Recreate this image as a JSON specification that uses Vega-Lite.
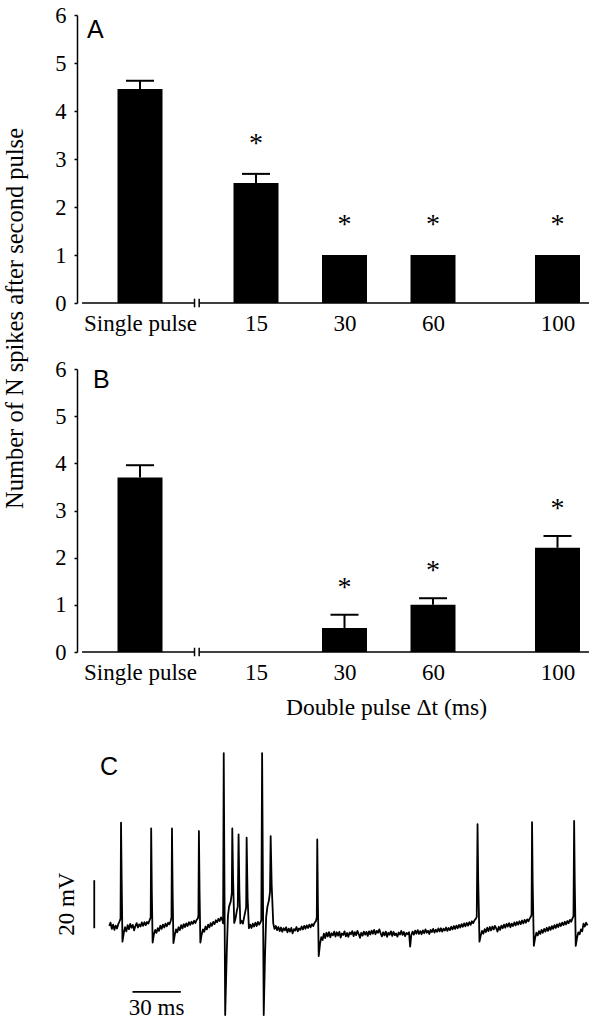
{
  "$schema": "https://vega.github.io/schema/vega-lite/v6.json",
  "padding": {"left": 2, "top": 4, "right": 0, "bottom": 0},
  "bounds": "flush",
  "spacing": 66,
  "config": {
    "font": "Liberation Serif",
    "view": {"stroke": null},
    "style": {"guide-label": {"font": "Liberation Serif"}, "guide-title": {"font": "Liberation Serif"}},
    "axis": {"domainColor": "black", "domainWidth": 1.5, "tickColor": "black", "tickWidth": 1.5, "labelColor": "black", "labelFont": "Liberation Serif", "labelFontSize": 22.5, "titleFont": "Liberation Serif", "titleFontSize": 23.5, "titleFontWeight": "normal", "titleColor": "black", "grid": false},
    "text": {"font": "Liberation Serif", "color": "black"}
  },
  "datasets": {
    "bars": [
      {"panel": "A", "k": 0, "cond": "Single pulse", "mean": 4.46, "hi": 4.63, "sig": ""},
      {"panel": "A", "k": 1, "cond": "15", "mean": 2.5, "hi": 2.69, "sig": "*"},
      {"panel": "A", "k": 2, "cond": "30", "mean": 1.0, "hi": 1.0, "sig": "*"},
      {"panel": "A", "k": 3, "cond": "60", "mean": 1.0, "hi": 1.0, "sig": "*"},
      {"panel": "A", "k": 4, "cond": "100", "mean": 1.0, "hi": 1.0, "sig": "*"},
      {"panel": "B", "k": 0, "cond": "Single pulse", "mean": 3.7, "hi": 3.96, "sig": ""},
      {"panel": "B", "k": 1, "cond": "15", "mean": 0, "hi": 0, "sig": ""},
      {"panel": "B", "k": 2, "cond": "30", "mean": 0.51, "hi": 0.79, "sig": "*"},
      {"panel": "B", "k": 3, "cond": "60", "mean": 1.0, "hi": 1.14, "sig": "*"},
      {"panel": "B", "k": 4, "cond": "100", "mean": 2.21, "hi": 2.46, "sig": "*"}
    ],
    "baseline": [{"x1": -0.55, "x2": 0.47}, {"x1": 0.51, "x2": 4.3}],
    "breaks": [{"xb": 0.47}, {"xb": 0.51}],
    "scalebars": [
      {"t1": -9.3, "t2": -9.3, "v1": -60.5, "v2": -40.5},
      {"t1": 14.4, "t2": 44.4, "v1": -87, "v2": -87}
    ],
    "scalelabels": [
      {"label": "20 mV", "t": -26.2, "v": -50.5},
      {"label": "30 ms", "t": 29.4, "v": -93.8}
    ],
    "trace": [
      {"t":0,"v":-59.5},{"t":0.8,"v":-58.2},{"t":1.6,"v":-60.8},{"t":2.4,"v":-59.0},{"t":3.2,"v":-61.2},{"t":4.0,"v":-59.4},{"t":4.8,"v":-60.6},{"t":5.6,"v":-58.8},{"t":6.4,"v":-57.6},{"t":7.0,"v":-56.5},{"t":7.3,"v":-16.5},{"t":7.7,"v":-40},{"t":8.2,"v":-66.1},{"t":9.0,"v":-62.5},{"t":9.8,"v":-60.1},{"t":10.6,"v":-61.8},{"t":11.4,"v":-59.2},{"t":12.2,"v":-60.9},{"t":13.0,"v":-58.7},{"t":13.8,"v":-60.3},{"t":14.6,"v":-59.1},{"t":15.4,"v":-61.4},{"t":16.2,"v":-59.6},{"t":17.0,"v":-58.4},{"t":17.8,"v":-60.2},{"t":18.6,"v":-58.9},{"t":19.4,"v":-59.8},{"t":20.2,"v":-58.1},{"t":21.0,"v":-59.5},{"t":21.8,"v":-58.0},{"t":22.6,"v":-59.2},{"t":23.4,"v":-57.9},{"t":24.2,"v":-58.6},{"t":25.0,"v":-57.2},{"t":25.7,"v":-56.0},{"t":26.0,"v":-18.9},{"t":26.4,"v":-45},{"t":26.9,"v":-66.5},{"t":27.7,"v":-63.0},{"t":28.5,"v":-61.2},{"t":29.3,"v":-62.4},{"t":30.1,"v":-60.5},{"t":30.9,"v":-61.6},{"t":31.7,"v":-59.4},{"t":32.5,"v":-60.8},{"t":33.3,"v":-59.0},{"t":34.1,"v":-60.2},{"t":34.9,"v":-58.6},{"t":35.7,"v":-59.7},{"t":36.5,"v":-58.2},{"t":37.3,"v":-58.9},{"t":38.1,"v":-57.5},{"t":38.6,"v":-56.0},{"t":38.9,"v":-18.9},{"t":39.3,"v":-45},{"t":39.8,"v":-66.7},{"t":40.6,"v":-63.5},{"t":41.4,"v":-61.0},{"t":42.2,"v":-62.2},{"t":43.0,"v":-60.1},{"t":43.8,"v":-61.3},{"t":44.6,"v":-59.2},{"t":45.4,"v":-60.6},{"t":46.2,"v":-58.8},{"t":47.0,"v":-60.0},{"t":47.8,"v":-58.5},{"t":48.6,"v":-59.6},{"t":49.4,"v":-58.0},{"t":50.2,"v":-59.1},{"t":51.0,"v":-57.8},{"t":51.8,"v":-58.7},{"t":52.6,"v":-57.4},{"t":53.4,"v":-58.3},{"t":54.2,"v":-57.0},{"t":55.0,"v":-56.4},{"t":55.3,"v":-55.0},{"t":55.6,"v":-20.0},{"t":56.0,"v":-45},{"t":56.5,"v":-66.5},{"t":57.3,"v":-63.2},{"t":58.1,"v":-61.0},{"t":58.9,"v":-62.0},{"t":59.7,"v":-59.8},{"t":60.5,"v":-61.0},{"t":61.3,"v":-59.0},{"t":62.1,"v":-60.2},{"t":62.9,"v":-58.4},{"t":63.7,"v":-59.5},{"t":64.5,"v":-57.9},{"t":65.3,"v":-58.8},{"t":66.1,"v":-57.2},{"t":66.9,"v":-58.0},{"t":67.7,"v":-56.6},{"t":68.5,"v":-57.5},{"t":69.3,"v":-56.0},{"t":70.1,"v":-57.0},{"t":70.6,"v":-58.5},{"t":71.0,"v":12.5},{"t":71.9,"v":-96.7},{"t":72.9,"v":-70},{"t":73.6,"v":-55.5},{"t":74.3,"v":-51.5},{"t":75.3,"v":-49.5},{"t":76.0,"v":-46.0},{"t":76.3,"v":-18.9},{"t":76.8,"v":-40},{"t":77.5,"v":-58.3},{"t":78.3,"v":-56.5},{"t":79.2,"v":-53.0},{"t":79.7,"v":-51.5},{"t":80.2,"v":-21.4},{"t":80.7,"v":-45},{"t":81.3,"v":-58.5},{"t":82.1,"v":-57.4},{"t":82.9,"v":-58.6},{"t":83.7,"v":-55.8},{"t":84.4,"v":-53.5},{"t":84.9,"v":-51.8},{"t":85.2,"v":-22.8},{"t":85.8,"v":-48},{"t":86.6,"v":-60.5},{"t":87.4,"v":-59.0},{"t":88.2,"v":-60.4},{"t":89.0,"v":-58.6},{"t":89.8,"v":-59.8},{"t":90.6,"v":-58.2},{"t":91.4,"v":-59.6},{"t":92.2,"v":-57.9},{"t":93.0,"v":-59.0},{"t":93.8,"v":-58.0},{"t":94.3,"v":-57.2},{"t":94.8,"v":12.5},{"t":95.8,"v":-96.7},{"t":96.6,"v":-72},{"t":97.3,"v":-56},{"t":98.1,"v":-51.5},{"t":99.0,"v":-49.0},{"t":99.7,"v":-45.5},{"t":100.1,"v":-22.1},{"t":100.7,"v":-42},{"t":101.7,"v":-58.5},{"t":102.5,"v":-60.8},{"t":103.3,"v":-59.6},{"t":104.1,"v":-61.3},{"t":104.9,"v":-60.0},{"t":105.7,"v":-61.7},{"t":106.5,"v":-60.2},{"t":107.3,"v":-62.0},{"t":108.1,"v":-60.5},{"t":108.9,"v":-61.4},{"t":109.7,"v":-60.1},{"t":110.5,"v":-62.2},{"t":111.3,"v":-60.7},{"t":112.1,"v":-61.9},{"t":112.9,"v":-60.4},{"t":113.7,"v":-62.6},{"t":114.5,"v":-60.9},{"t":115.3,"v":-61.5},{"t":116.1,"v":-60.0},{"t":116.9,"v":-61.8},{"t":117.7,"v":-60.6},{"t":118.5,"v":-61.2},{"t":119.3,"v":-59.8},{"t":120.1,"v":-61.0},{"t":120.9,"v":-59.5},{"t":121.7,"v":-60.7},{"t":122.5,"v":-59.3},{"t":123.3,"v":-60.4},{"t":124.1,"v":-59.0},{"t":124.9,"v":-60.1},{"t":125.7,"v":-58.8},{"t":126.5,"v":-59.6},{"t":127.3,"v":-58.3},{"t":128.2,"v":-57.5},{"t":128.7,"v":-56.0},{"t":129.0,"v":-23.5},{"t":129.4,"v":-50},{"t":129.9,"v":-72.1},{"t":130.7,"v":-67.0},{"t":131.5,"v":-64.2},{"t":132.3,"v":-65.4},{"t":133.1,"v":-62.8},{"t":133.9,"v":-64.6},{"t":134.7,"v":-62.4},{"t":135.5,"v":-63.9},{"t":136.3,"v":-62.1},{"t":137.1,"v":-64.3},{"t":137.9,"v":-62.6},{"t":138.7,"v":-63.5},{"t":139.5,"v":-61.9},{"t":140.3,"v":-64.0},{"t":141.1,"v":-62.2},{"t":141.9,"v":-63.6},{"t":142.7,"v":-62.0},{"t":143.5,"v":-64.4},{"t":144.3,"v":-62.7},{"t":145.1,"v":-63.3},{"t":145.9,"v":-61.8},{"t":146.7,"v":-63.9},{"t":147.5,"v":-62.5},{"t":148.3,"v":-64.1},{"t":149.1,"v":-62.3},{"t":149.9,"v":-63.0},{"t":150.7,"v":-61.7},{"t":151.5,"v":-63.8},{"t":152.3,"v":-62.1},{"t":153.1,"v":-63.4},{"t":153.9,"v":-61.6},{"t":154.7,"v":-62.9},{"t":155.5,"v":-64.5},{"t":156.3,"v":-62.4},{"t":157.1,"v":-63.6},{"t":157.9,"v":-61.9},{"t":158.7,"v":-63.2},{"t":159.5,"v":-62.0},{"t":160.3,"v":-63.7},{"t":161.1,"v":-61.8},{"t":161.9,"v":-63.1},{"t":162.7,"v":-61.5},{"t":163.5,"v":-62.8},{"t":164.3,"v":-61.2},{"t":165.1,"v":-63.0},{"t":165.9,"v":-61.6},{"t":166.7,"v":-62.4},{"t":167.5,"v":-61.0},{"t":168.3,"v":-62.6},{"t":169.1,"v":-63.9},{"t":169.9,"v":-62.2},{"t":170.7,"v":-63.5},{"t":171.5,"v":-61.9},{"t":172.3,"v":-64.1},{"t":173.1,"v":-62.4},{"t":173.9,"v":-63.2},{"t":174.7,"v":-61.8},{"t":175.5,"v":-63.7},{"t":176.3,"v":-62.0},{"t":177.1,"v":-63.4},{"t":177.9,"v":-62.7},{"t":178.7,"v":-64.0},{"t":179.5,"v":-62.3},{"t":180.3,"v":-63.1},{"t":181.1,"v":-61.6},{"t":181.9,"v":-63.3},{"t":182.7,"v":-62.1},{"t":183.5,"v":-63.8},{"t":184.3,"v":-62.5},{"t":185.1,"v":-63.0},{"t":185.9,"v":-62.2},{"t":186.6,"v":-68.2},{"t":187.3,"v":-63.4},{"t":188.1,"v":-61.9},{"t":188.9,"v":-63.2},{"t":189.7,"v":-61.5},{"t":190.5,"v":-62.8},{"t":191.3,"v":-61.3},{"t":192.1,"v":-62.9},{"t":192.9,"v":-61.7},{"t":193.7,"v":-63.0},{"t":194.5,"v":-61.4},{"t":195.3,"v":-62.6},{"t":196.1,"v":-61.0},{"t":196.9,"v":-62.4},{"t":197.7,"v":-61.6},{"t":198.5,"v":-62.9},{"t":199.3,"v":-61.2},{"t":200.1,"v":-62.1},{"t":200.9,"v":-60.8},{"t":201.7,"v":-62.3},{"t":202.5,"v":-61.1},{"t":203.3,"v":-62.0},{"t":204.1,"v":-60.6},{"t":204.9,"v":-61.8},{"t":205.7,"v":-60.5},{"t":206.5,"v":-61.9},{"t":207.3,"v":-60.7},{"t":208.1,"v":-61.5},{"t":208.9,"v":-60.2},{"t":209.7,"v":-61.6},{"t":210.5,"v":-60.4},{"t":211.3,"v":-61.3},{"t":212.1,"v":-59.9},{"t":212.9,"v":-61.0},{"t":213.7,"v":-59.6},{"t":214.5,"v":-60.8},{"t":215.3,"v":-59.4},{"t":216.1,"v":-60.5},{"t":216.9,"v":-59.1},{"t":217.7,"v":-60.2},{"t":218.5,"v":-58.8},{"t":219.3,"v":-59.9},{"t":220.1,"v":-58.5},{"t":220.9,"v":-59.7},{"t":221.7,"v":-58.3},{"t":222.5,"v":-59.4},{"t":223.3,"v":-58.0},{"t":224.1,"v":-59.1},{"t":224.9,"v":-57.6},{"t":225.7,"v":-58.4},{"t":226.5,"v":-57.2},{"t":227.3,"v":-56.6},{"t":227.9,"v":-55.8},{"t":228.4,"v":-17.1},{"t":228.8,"v":-40},{"t":229.6,"v":-66.1},{"t":230.4,"v":-63.5},{"t":231.2,"v":-61.6},{"t":232.0,"v":-62.8},{"t":232.8,"v":-60.9},{"t":233.6,"v":-62.1},{"t":234.4,"v":-60.3},{"t":235.2,"v":-61.7},{"t":236.0,"v":-60.0},{"t":236.8,"v":-61.4},{"t":237.6,"v":-59.8},{"t":238.4,"v":-61.0},{"t":239.2,"v":-59.5},{"t":240.0,"v":-60.6},{"t":240.8,"v":-61.9},{"t":241.6,"v":-59.9},{"t":242.4,"v":-61.2},{"t":243.2,"v":-59.4},{"t":244.0,"v":-60.5},{"t":244.8,"v":-59.0},{"t":245.6,"v":-60.3},{"t":246.4,"v":-58.7},{"t":247.2,"v":-59.8},{"t":248.0,"v":-58.4},{"t":248.8,"v":-60.1},{"t":249.6,"v":-58.6},{"t":250.4,"v":-59.6},{"t":251.2,"v":-58.1},{"t":252.0,"v":-59.3},{"t":252.8,"v":-57.9},{"t":253.6,"v":-59.0},{"t":254.4,"v":-57.6},{"t":255.2,"v":-58.8},{"t":256.0,"v":-57.3},{"t":256.8,"v":-58.5},{"t":257.6,"v":-57.0},{"t":258.4,"v":-58.2},{"t":259.2,"v":-56.8},{"t":260.0,"v":-57.6},{"t":260.8,"v":-56.4},{"t":261.5,"v":-55.6},{"t":261.9,"v":-54.8},{"t":262.2,"v":-16.3},{"t":262.6,"v":-42},{"t":263.3,"v":-67.8},{"t":264.1,"v":-64.6},{"t":264.9,"v":-62.4},{"t":265.7,"v":-63.5},{"t":266.5,"v":-61.7},{"t":267.3,"v":-62.9},{"t":268.1,"v":-61.2},{"t":268.9,"v":-62.4},{"t":269.7,"v":-60.8},{"t":270.5,"v":-61.9},{"t":271.3,"v":-60.3},{"t":272.1,"v":-61.6},{"t":272.9,"v":-60.0},{"t":273.7,"v":-61.2},{"t":274.5,"v":-59.6},{"t":275.3,"v":-60.8},{"t":276.1,"v":-59.2},{"t":276.9,"v":-60.4},{"t":277.7,"v":-58.9},{"t":278.5,"v":-60.0},{"t":279.3,"v":-58.5},{"t":280.1,"v":-59.6},{"t":280.9,"v":-58.2},{"t":281.7,"v":-59.2},{"t":282.5,"v":-57.8},{"t":283.3,"v":-58.9},{"t":284.1,"v":-57.5},{"t":284.9,"v":-58.4},{"t":285.7,"v":-57.0},{"t":286.5,"v":-57.8},{"t":287.2,"v":-56.5},{"t":287.9,"v":-55.5},{"t":288.3,"v":-15.8},{"t":288.7,"v":-42},{"t":289.3,"v":-67.9},{"t":290.1,"v":-64.5},{"t":290.9,"v":-62.2},{"t":291.7,"v":-63.0},{"t":292.5,"v":-61.0},{"t":293.3,"v":-61.8},{"t":294.1,"v":-58.6},{"t":294.9,"v":-59.8},{"t":295.7,"v":-58.2},{"t":296.6,"v":-59.3}
    ]
  },
  "vconcat": [
    {
      "width": 517,
      "height": 288,
      "title": {"text": "A", "anchor": "start", "frame": "group", "offset": -59, "dx": 10, "font": "Liberation Sans", "fontSize": 25, "fontWeight": "normal", "baseline": "alphabetic", "color": "black"},
      "layer": [
        {
          "data": {"name": "bars"},
          "transform": [{"filter": "datum.panel == 'A'"}],
          "mark": {"type": "bar", "orient": "vertical", "size": 45, "color": "black"},
          "encoding": {
            "x": {"field": "k", "type": "quantitative", "scale": {"domain": [-0.55, 0, 1, 2, 3, 4, 4.3], "range": [0, 63, 179, 267.5, 356, 480.5, 517], "nice": false, "zero": false}, "axis": {"values": [0, 1, 2, 3, 4], "labelExpr": "['Single pulse','15','30','60','100'][datum.value]", "labelFont": {"expr": "'Liberation Serif'"}, "labelFontSize": 23, "ticks": false, "domain": false, "labelPadding": 9, "labelFlush": false, "labelOverlap": false, "title": null}},
            "y": {"field": "mean", "type": "quantitative", "scale": {"domain": [0, 6], "nice": false}, "axis": {"values": [0, 1, 2, 3, 4, 5, 6], "labelFont": {"expr": "'Liberation Serif'"}, "labelFontSize": 22.5, "tickSize": 3, "labelPadding": 8, "title": "Number of N spikes after second pulse", "titleFont": "Liberation Serif", "titleFontSize": 24.5, "titleY": 303, "titleX": -55, "titleAngle": 270, "titleBaseline": "alphabetic", "titleAlign": "center"}}
          }
        },
        {
          "data": {"name": "bars"},
          "transform": [{"filter": "datum.panel == 'A' && datum.hi > datum.mean"}],
          "mark": {"type": "rule", "strokeWidth": 2, "color": "black"},
          "encoding": {"x": {"field": "k", "type": "quantitative"}, "y": {"field": "mean", "type": "quantitative"}, "y2": {"field": "hi"}}
        },
        {
          "data": {"name": "bars"},
          "transform": [{"filter": "datum.panel == 'A' && datum.hi > datum.mean"}],
          "mark": {"type": "tick", "orient": "horizontal", "size": 28, "thickness": 2, "color": "black", "opacity": 1},
          "encoding": {"x": {"field": "k", "type": "quantitative"}, "y": {"field": "hi", "type": "quantitative"}}
        },
        {
          "data": {"name": "bars"},
          "transform": [{"filter": "datum.panel == 'A' && datum.sig == '*'"}],
          "mark": {"type": "text", "font": "Liberation Serif", "fontSize": 28, "baseline": "alphabetic", "align": "center", "dy": -22},
          "encoding": {"x": {"field": "k", "type": "quantitative"}, "y": {"field": "hi", "type": "quantitative"}, "text": {"field": "sig"}}
        },
        {
          "data": {"name": "baseline"},
          "mark": {"type": "rule", "strokeWidth": 1.5, "color": "black"},
          "encoding": {"x": {"field": "x1", "type": "quantitative"}, "x2": {"field": "x2"}, "y": {"datum": 0}}
        },
        {
          "data": {"name": "breaks"},
          "mark": {"type": "rule", "strokeWidth": 1.5, "color": "black"},
          "encoding": {"x": {"field": "xb", "type": "quantitative"}, "y": {"datum": -0.09}, "y2": {"datum": 0.09}}
        }
      ]
    },
    {
      "width": 517,
      "height": 283,
      "title": {"text": "B", "anchor": "start", "frame": "group", "offset": -55, "dx": 16, "font": "Liberation Sans", "fontSize": 25, "fontWeight": "normal", "baseline": "alphabetic", "color": "black"},
      "layer": [
        {
          "data": {"name": "bars"},
          "transform": [{"filter": "datum.panel == 'B'"}],
          "mark": {"type": "bar", "orient": "vertical", "size": 45, "color": "black"},
          "encoding": {
            "x": {"field": "k", "type": "quantitative", "scale": {"domain": [-0.55, 0, 1, 2, 3, 4, 4.3], "range": [0, 63, 179, 267.5, 356, 480.5, 517], "nice": false, "zero": false}, "axis": {"values": [0, 1, 2, 3, 4], "labelExpr": "['Single pulse','15','30','60','100'][datum.value]", "labelFont": {"expr": "'Liberation Serif'"}, "labelFontSize": 23, "ticks": false, "domain": false, "labelPadding": 9, "labelFlush": false, "labelOverlap": false, "title": "Double pulse Δt (ms)", "titleFont": "Liberation Serif", "titleFontSize": 23.5, "titleX": 309, "titleY": 62, "titleBaseline": "alphabetic", "titleAlign": "center"}},
            "y": {"field": "mean", "type": "quantitative", "scale": {"domain": [0, 6], "nice": false}, "axis": {"values": [0, 1, 2, 3, 4, 5, 6], "labelFont": {"expr": "'Liberation Serif'"}, "labelFontSize": 22.5, "tickSize": 3, "labelPadding": 8, "title": null}}
          }
        },
        {
          "data": {"name": "bars"},
          "transform": [{"filter": "datum.panel == 'B' && datum.hi > datum.mean"}],
          "mark": {"type": "rule", "strokeWidth": 2, "color": "black"},
          "encoding": {"x": {"field": "k", "type": "quantitative"}, "y": {"field": "mean", "type": "quantitative"}, "y2": {"field": "hi"}}
        },
        {
          "data": {"name": "bars"},
          "transform": [{"filter": "datum.panel == 'B' && datum.hi > datum.mean"}],
          "mark": {"type": "tick", "orient": "horizontal", "size": 28, "thickness": 2, "color": "black", "opacity": 1},
          "encoding": {"x": {"field": "k", "type": "quantitative"}, "y": {"field": "hi", "type": "quantitative"}}
        },
        {
          "data": {"name": "bars"},
          "transform": [{"filter": "datum.panel == 'B' && datum.sig == '*'"}],
          "mark": {"type": "text", "font": "Liberation Serif", "fontSize": 28, "baseline": "alphabetic", "align": "center", "dy": -19},
          "encoding": {"x": {"field": "k", "type": "quantitative"}, "y": {"field": "hi", "type": "quantitative"}, "text": {"field": "sig"}}
        },
        {
          "data": {"name": "baseline"},
          "mark": {"type": "rule", "strokeWidth": 1.5, "color": "black"},
          "encoding": {"x": {"field": "x1", "type": "quantitative"}, "x2": {"field": "x2"}, "y": {"datum": 0}}
        },
        {
          "data": {"name": "breaks"},
          "mark": {"type": "rule", "strokeWidth": 1.5, "color": "black"},
          "encoding": {"x": {"field": "xb", "type": "quantitative"}, "y": {"datum": -0.09}, "y2": {"datum": 0.09}}
        }
      ]
    },
    {
      "width": 516,
      "height": 299,
      "title": {"text": "C", "anchor": "start", "frame": "group", "offset": -82, "dx": 23, "font": "Liberation Sans", "fontSize": 25, "fontWeight": "normal", "baseline": "alphabetic", "color": "black"},
      "layer": [
        {
          "data": {"name": "trace"},
          "mark": {"type": "line", "color": "black", "strokeWidth": 1.8, "strokeJoin": "round"},
          "encoding": {
            "x": {"field": "t", "type": "quantitative", "scale": {"domain": [-20, 300], "nice": false, "zero": false}, "axis": null},
            "y": {"field": "v", "type": "quantitative", "scale": {"domain": [-97.5, 27.1], "nice": false, "zero": false}, "axis": null}
          }
        },
        {
          "data": {"name": "scalebars"},
          "mark": {"type": "rule", "strokeWidth": 1.8, "color": "black"},
          "encoding": {"x": {"field": "t1", "type": "quantitative"}, "x2": {"field": "t2"}, "y": {"field": "v1", "type": "quantitative"}, "y2": {"field": "v2"}}
        },
        {
          "data": {"name": "scalelabels"},
          "transform": [{"filter": "datum.label == '30 ms'"}],
          "mark": {"type": "text", "font": "Liberation Serif", "fontSize": 23, "align": "center", "baseline": "middle"},
          "encoding": {"x": {"field": "t", "type": "quantitative"}, "y": {"field": "v", "type": "quantitative"}, "text": {"field": "label"}}
        },
        {
          "data": {"name": "scalelabels"},
          "transform": [{"filter": "datum.label == '20 mV'"}],
          "mark": {"type": "text", "font": "Liberation Serif", "fontSize": 23, "align": "center", "baseline": "middle", "angle": 270},
          "encoding": {"x": {"field": "t", "type": "quantitative"}, "y": {"field": "v", "type": "quantitative"}, "text": {"field": "label"}}
        }
      ]
    }
  ]
}
